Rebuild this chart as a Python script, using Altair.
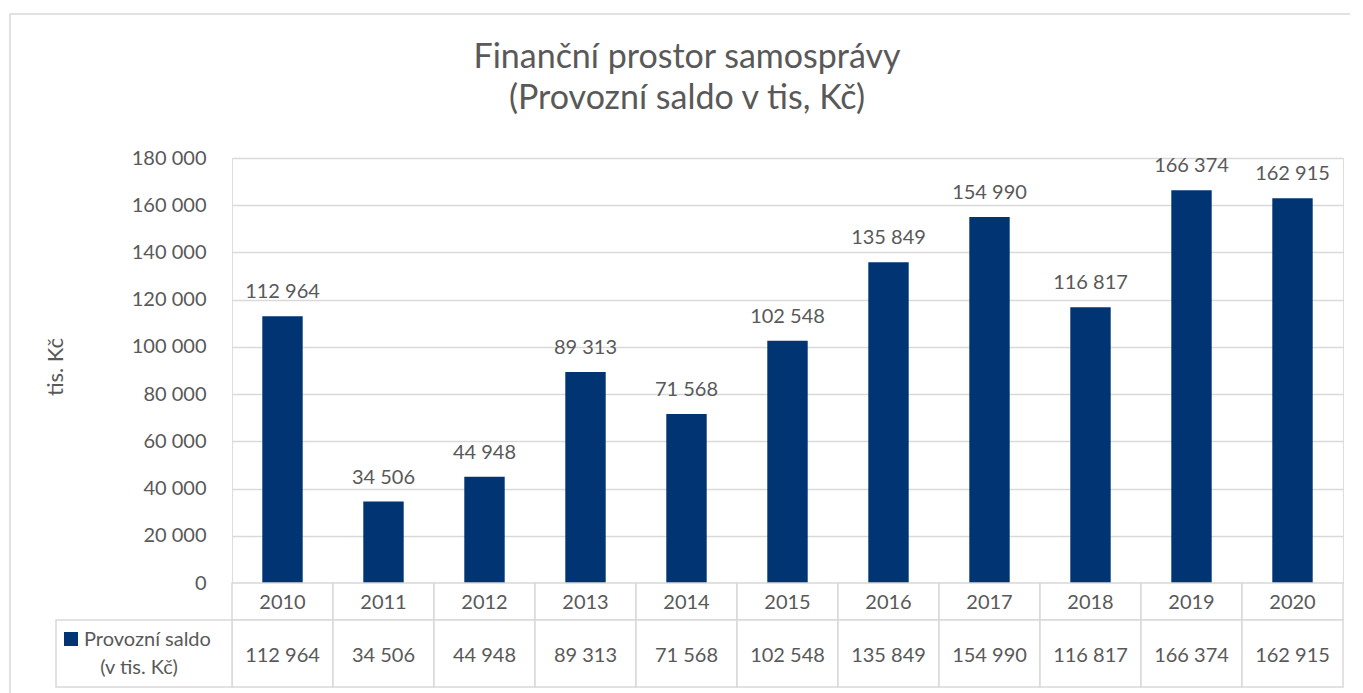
import altair as alt
import pandas as pd

years = ["2010", "2011", "2012", "2013", "2014", "2015", "2016", "2017", "2018", "2019", "2020"]
values = [112964, 34506, 44948, 89313, 71568, 102548, 135849, 154990, 116817, 166374, 162915]
y_ticks = [0, 20000, 40000, 60000, 80000, 100000, 120000, 140000, 160000, 180000]
title_lines = ["Finanční prostor samosprávy", "(Provozní saldo v tis, Kč)"]
legend_lines = ["Provozní saldo", "(v tis. Kč)"]
y_title = "tis. Kč"

labels = [f"{v:,}".replace(",", " ") for v in values]
df = pd.DataFrame({"year": years, "value": values, "label": labels})
one = pd.DataFrame({"k": [0]})

FONT = "Lato"
GRAY = "#595959"
LINE = "#d9d9d9"
BAR = "#003473"
W = 1111
H = 425
HH = 37   # header row height
VH = 67   # value row height


def text_line(txt, x, y, size=20, align="center"):
    return alt.Chart(pd.DataFrame({"t": [txt]})).mark_text(
        font=FONT, fontSize=size, color=GRAY, align=align, baseline="alphabetic"
    ).encode(x=alt.value(x), y=alt.value(y), text="t:N")


xb = alt.X("year:N", sort=years, axis=None,
           scale=alt.Scale(domain=years, paddingInner=0.6, paddingOuter=0.3))
yb = alt.Y("value:Q",
           scale=alt.Scale(domain=[0, 180000], nice=False),
           axis=alt.Axis(values=y_ticks, title=y_title, domain=False, ticks=False,
                         labelExpr="replace(format(datum.value, ','), ',', ' ')",
                         labelFont=FONT, labelFontSize=20, labelColor=GRAY,
                         labelPadding=26, gridColor=LINE, gridWidth=1.3,
                         titleFont=FONT, titleFontSize=22, titleColor=GRAY,
                         titleFontWeight="normal", titleAngle=-90,
                         titleX=-177, titleY=H / 2 - 4, titleAlign="center",
                         titleBaseline="middle"))

bars = alt.Chart(df).mark_bar(color=BAR).encode(x=xb, y=yb)
bar_labels = alt.Chart(df).mark_text(font=FONT, fontSize=20, color=GRAY,
                                     baseline="alphabetic", dy=-18).encode(
    x=xb, y=alt.Y("value:Q"), text="label:N")

title1 = text_line(title_lines[0], 455, -90, size=34)
title2 = text_line(title_lines[1], 455, -49, size=34)

frame_top = alt.Chart(one).mark_rule(color=LINE, strokeWidth=1.5).encode(
    x=alt.value(-222), x2=alt.value(1118), y=alt.value(-144))
frame_left = alt.Chart(one).mark_rule(color=LINE, strokeWidth=1.5).encode(
    x=alt.value(-222), y=alt.value(-144), y2=alt.value(H + HH + VH + 20))

# data table below the plot
xt = alt.X("year:N", sort=years, axis=None,
           scale=alt.Scale(domain=years, paddingInner=0, paddingOuter=0))

header_cells = alt.Chart(df).mark_rect(fill="white", stroke=LINE, strokeWidth=1.5).encode(
    x=xt, y=alt.value(H), y2=alt.value(H + HH))
header_text = alt.Chart(df).mark_text(font=FONT, fontSize=20, color=GRAY,
                                      baseline="middle").encode(
    x=xt, y=alt.value(H + HH / 2 + 1), text="year:N")
val_cells = alt.Chart(df).mark_rect(fill="white", stroke=LINE, strokeWidth=1.5).encode(
    x=xt, y=alt.value(H + HH), y2=alt.value(H + HH + VH))
val_text = alt.Chart(df).mark_text(font=FONT, fontSize=20, color=GRAY,
                                   baseline="middle").encode(
    x=xt, y=alt.value(H + HH + 36), text="label:N")
legend_cell = alt.Chart(one).mark_rect(fill="white", stroke=LINE, strokeWidth=1.5).encode(
    x=alt.value(-176), x2=alt.value(0), y=alt.value(H + HH), y2=alt.value(H + HH + VH))
legend_square = alt.Chart(one).mark_rect(fill=BAR).encode(
    x=alt.value(-168), x2=alt.value(-154), y=alt.value(H + HH + 12),
    y2=alt.value(H + HH + 26))
leg1 = text_line(legend_lines[0], -148, H + HH + 26, align="left")
leg2 = text_line(legend_lines[1], -93, H + HH + 54)

chart = alt.layer(
    frame_top, frame_left, bars, bar_labels, title1, title2,
    header_cells, header_text, val_cells, val_text,
    legend_cell, legend_square, leg1, leg2,
).resolve_scale(x="independent").properties(
    width=W, height=H,
    padding={"left": 1, "top": 5, "right": 0, "bottom": 5},
).configure_view(stroke=None).configure(background="white")

chart.save("out.html", embed_options={"renderer": "svg", "actions": False})
